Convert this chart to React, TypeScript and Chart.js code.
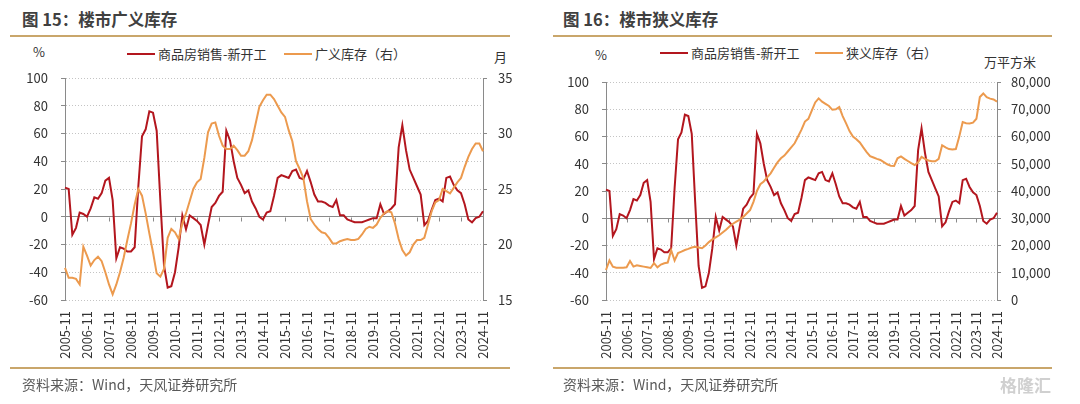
import React, { useEffect, useRef } from 'react';
import { Chart, registerables } from 'chart.js';

Chart.register(...registerables);

const FONT = '"Noto Sans CJK SC", "Noto Sans", sans-serif';

// 商品房销售-新开工 (%), sampled every 2 months, 2005-11 … 2024-11
const SALES_MINUS_STARTS = [
  21, 20, -13, -8, 3, 2, 0, 6, 14, 13,
  17, 26, 28, 12, -30, -22, -23, -25, -25, -22,
  22, 58, 63, 76, 75, 62, 12, -35, -51, -50,
  -40, -22, 1, -9, 1, -1, -3, -6, -20, -6,
  7, 10, 15, 18, 62, 55, 40, 28, 23, 17,
  19, 11, 6, 0, -2, 3, 4, 15, 28, 30,
  29, 28, 33, 34, 28, 27, 33, 25, 16, 11,
  11, 10, 8, 7, 12, 1, 1, -2, -3, -4,
  -4, -4, -3, -2, -1, -1, 9, 2, 4, 6,
  9, 50, 66, 48, 34, 28, 22, 16, -6, -3,
  5, 12, 13, 11, 28, 29, 23, 19, 17, 9,
  -2, -4, -1, 0, 4,
];

// 广义库存（右，月）
const BROAD_INVENTORY = [
  17.9, 17.0, 17.0, 16.9, 16.4, 19.8, 19.0, 18.1, 18.6, 18.9,
  18.5, 17.5, 16.4, 15.5, 16.4, 17.5, 18.8, 20.4, 21.9, 23.6,
  25.0, 24.4, 22.8, 21.0, 19.3, 17.4, 17.1, 17.8, 20.6, 21.4,
  21.1, 20.5, 21.9, 22.8, 23.9, 25.0, 25.6, 25.9, 27.8, 30.1,
  30.9, 31.0, 29.8, 28.9, 28.6, 28.6, 28.9, 28.5, 28.0, 28.0,
  28.4, 29.4, 30.9, 32.4, 33.0, 33.5, 33.5, 33.1, 32.5, 31.9,
  31.5, 30.3, 29.3, 27.5, 26.8, 26.0, 23.9, 22.3, 21.8, 21.4,
  21.1, 21.0, 20.6, 20.1, 20.1, 20.3, 20.4, 20.5, 20.4, 20.4,
  20.5, 20.9, 21.4, 21.6, 21.5, 21.8, 22.4, 22.8, 23.0, 22.9,
  21.9, 20.5, 19.5, 19.0, 19.3, 20.0, 20.4, 20.4, 20.6, 21.8,
  23.0, 23.8, 24.0, 25.0, 24.8, 24.6, 25.1, 25.6, 26.0, 27.0,
  27.9, 28.6, 29.1, 29.1, 28.4,
];

// 狭义库存（右，万平方米）
const NARROW_INVENTORY = [
  11000, 14500, 12250, 11850, 11850, 11850, 12000, 14300, 12250, 12750,
  12500, 12250, 12000, 11750, 13500, 12000, 13000, 13500, 13750, 18250,
  14500, 17250, 17750, 18350, 18750, 19250, 19500, 19250, 19000, 20000,
  21250, 22250, 23000, 23750, 24750, 25750, 27000, 28000, 28750, 29500,
  30500, 31750, 33000, 36000, 40000, 42500, 43500, 45000, 46500, 48500,
  50500, 52000, 53000, 54500, 56000, 57500, 60000, 62500, 65500, 66500,
  69500, 72500, 74000, 72800, 72000, 71200, 69800, 70000, 70800, 67500,
  64800, 62000, 60000, 59000, 57800, 56000, 54300, 52800, 52300, 51800,
  51400, 50600, 49800, 49300, 49200, 52000, 52700, 51800, 51000, 50200,
  49500, 50500, 52500, 51800, 51200, 50900, 50900, 51800, 56800, 56000,
  55400, 55200, 55400, 60000, 65300, 64900, 64800, 65100, 66500, 74500,
  75800, 74400, 73900, 73600, 72800,
];

const START_YEAR = 2005;
const START_MONTH = 11;
const STEP_MONTHS = 2;
const CATEGORIES = SALES_MINUS_STARTS.map((_, i) => {
  const t = START_MONTH - 1 + i * STEP_MONTHS;
  return `${START_YEAR + Math.floor(t / 12)}-${String((t % 12) + 1).padStart(2, '0')}`;
});
const LABEL_SUFFIX = '-11';

const LEFT_AXIS = { min: -60, max: 100, step: 20 };
const BROAD_AXIS = { min: 15, max: 35, step: 5 };
const NARROW_AXIS = { min: 0, max: 80000, step: 10000 };

const RED = '#b3161e';
const ORANGE = '#ec9a4e';
const AXIS = '#8a8a8a';
const GRID = '#c4c4c4';
const GOLD = '#c9a66b';
const TEXT = '#333333';

const zeroTicks = {
  id: 'zeroTicks',
  beforeDatasetsDraw(chart: any) {
    const x = chart.scales.x;
    const y = chart.scales.y;
    const y0 = Math.round(y.getPixelForValue(0)) + 0.5;
    const ctx = chart.ctx;
    ctx.save();
    ctx.strokeStyle = AXIS;
    ctx.lineWidth = 1;
    ctx.beginPath();
    CATEGORIES.forEach((c, i) => {
      if (c.endsWith(LABEL_SUFFIX)) {
        const px = Math.round(x.getPixelForValue(i)) + 0.5;
        ctx.moveTo(px, y0);
        ctx.lineTo(px, y0 + 4);
      }
    });
    ctx.stroke();
    ctx.restore();
  },
};

type Geom = { left: number; top: number; leftW: number; rightW: number; padL: number; padR: number };

function LineChart(props: {
  rightLabel: string;
  rightData: number[];
  rightAxis: { min: number; max: number; step: number };
  rightFormat: (v: number) => string;
  geom: Geom;
}) {
  const ref = useRef<HTMLCanvasElement>(null);
  useEffect(() => {
    const canvas = ref.current;
    if (!canvas) return;
    const { geom, rightAxis } = props;
    const tickFont = { family: FONT, size: 13 };
    const chart = new Chart(canvas, {
      type: 'line',
      data: {
        labels: CATEGORIES,
        datasets: [
          {
            label: '商品房销售-新开工',
            data: SALES_MINUS_STARTS,
            yAxisID: 'y',
            borderColor: RED,
            backgroundColor: RED,
            borderWidth: 2,
            pointRadius: 0,
            tension: 0,
            order: 1,
          },
          {
            label: props.rightLabel,
            data: props.rightData,
            yAxisID: 'yR',
            borderColor: ORANGE,
            backgroundColor: ORANGE,
            borderWidth: 2,
            pointRadius: 0,
            tension: 0,
            order: 0,
          },
        ],
      },
      options: {
        responsive: false,
        animation: false,
        events: [],
        layout: { padding: { top: geom.top, left: 0, right: 0, bottom: 0 } },
        plugins: { legend: { display: false }, tooltip: { enabled: false } },
        scales: {
          x: {
            type: 'category',
            grid: { display: false, drawTicks: false, tickLength: 0 },
            border: { display: false },
            ticks: {
              autoSkip: false,
              minRotation: 90,
              maxRotation: 90,
              padding: 11,
              color: TEXT,
              font: tickFont,
              callback: (_v: any, i: number) => (CATEGORIES[i].endsWith(LABEL_SUFFIX) ? CATEGORIES[i] : ''),
            },
            afterFit: (s: any) => {
              s.height = 104;
            },
          },
          y: {
            position: 'left',
            min: LEFT_AXIS.min,
            max: LEFT_AXIS.max,
            ticks: { stepSize: LEFT_AXIS.step, color: TEXT, font: tickFont, padding: geom.padL },
            grid: {
              color: (c: any) => (c.tick && c.tick.value === 0 ? AXIS : GRID),
              lineWidth: 1,
              drawTicks: true,
              tickLength: 4,
              tickColor: AXIS,
            },
            border: {
              display: true,
              color: AXIS,
              width: 1,
              dash: (c: any) => (c.tick && c.tick.value === 0 ? [] : [1, 2]),
            },
            afterFit: (s: any) => {
              s.width = geom.leftW;
            },
          },
          yR: {
            position: 'right',
            min: rightAxis.min,
            max: rightAxis.max,
            ticks: {
              stepSize: rightAxis.step,
              color: TEXT,
              font: tickFont,
              padding: geom.padR,
              callback: (v: any) => props.rightFormat(Number(v)),
            },
            grid: { drawOnChartArea: false, drawTicks: true, tickLength: 4, tickColor: AXIS },
            border: { display: true, color: AXIS, width: 1 },
            afterFit: (s: any) => {
              s.width = geom.rightW;
            },
          },
        },
      },
      plugins: [zeroTicks],
    } as any);
    return () => chart.destroy();
  }, []);
  return (
    <canvas
      ref={ref}
      width={540}
      height={404}
      style={{ position: 'absolute', left: props.geom.left, top: 0, width: 540, height: 404 }}
    />
  );
}

function T(props: { x: number; y: number; size?: number; color?: string; bold?: boolean; children: React.ReactNode }) {
  const size = props.size ?? 13;
  return (
    <div
      style={{
        position: 'absolute',
        left: props.x,
        top: props.y - size * 0.7,
        fontFamily: FONT,
        fontSize: size,
        lineHeight: `${Math.round(size * 1.4)}px`,
        color: props.color ?? TEXT,
        fontWeight: props.bold ? 700 : 400,
        whiteSpace: 'nowrap',
      }}
    >
      {props.children}
    </div>
  );
}

function Rule(props: { x: number; y: number; w: number }) {
  return <div style={{ position: 'absolute', left: props.x, top: props.y, width: props.w, height: 2, background: GOLD }} />;
}

function Swatch(props: { x: number; y: number; color: string }) {
  return <div style={{ position: 'absolute', left: props.x, top: props.y - 1, width: 28, height: 2, background: props.color }} />;
}

export default function App() {
  return (
    <div style={{ position: 'absolute', left: 0, top: 0, width: 1080, height: 404, background: '#ffffff', overflow: 'hidden' }}>
      {/* Left panel */}
      <T x={22} y={20} size={16.5} color="#404040" bold>图 15：楼市广义库存</T>
      <Rule x={10} y={35} w={500} />
      <T x={33} y={52}>%</T>
      <Swatch x={127} y={54} color={RED} />
      <T x={158} y={54}>商品房销售-新开工</T>
      <Swatch x={284} y={54} color={ORANGE} />
      <T x={315} y={54}>广义库存（右）</T>
      <T x={494} y={57}>月</T>
      <LineChart
        rightLabel="广义库存（右）"
        rightData={BROAD_INVENTORY}
        rightAxis={BROAD_AXIS}
        rightFormat={(v) => String(v)}
        geom={{ left: 0, top: 78, leftW: 65, rightW: 57, padL: 13, padR: 11 }}
      />
      <Rule x={10} y={367} w={500} />
      <T x={22} y={384} size={14} color="#595959">资料来源：Wind，天风证券研究所</T>

      {/* Right panel */}
      <T x={563} y={20} size={16.5} color="#404040" bold>图 16：楼市狭义库存</T>
      <Rule x={553} y={35} w={499} />
      <T x={595} y={55}>%</T>
      <Swatch x={660} y={53} color={RED} />
      <T x={691} y={53}>商品房销售-新开工</T>
      <Swatch x={815} y={53} color={ORANGE} />
      <T x={846} y={53}>狭义库存（右）</T>
      <T x={984} y={62}>万平方米</T>
      <LineChart
        rightLabel="狭义库存（右）"
        rightData={NARROW_INVENTORY}
        rightAxis={NARROW_AXIS}
        rightFormat={(v) => v.toLocaleString('en-US')}
        geom={{ left: 540, top: 82, leftW: 66, rightW: 83, padL: 13, padR: 10 }}
      />
      <Rule x={553} y={367} w={499} />
      <T x={563} y={384} size={14} color="#595959">资料来源：Wind，天风证券研究所</T>
      <T x={1000} y={385} size={17} color="#d0d0d0" bold>格隆汇</T>
    </div>
  );
}
